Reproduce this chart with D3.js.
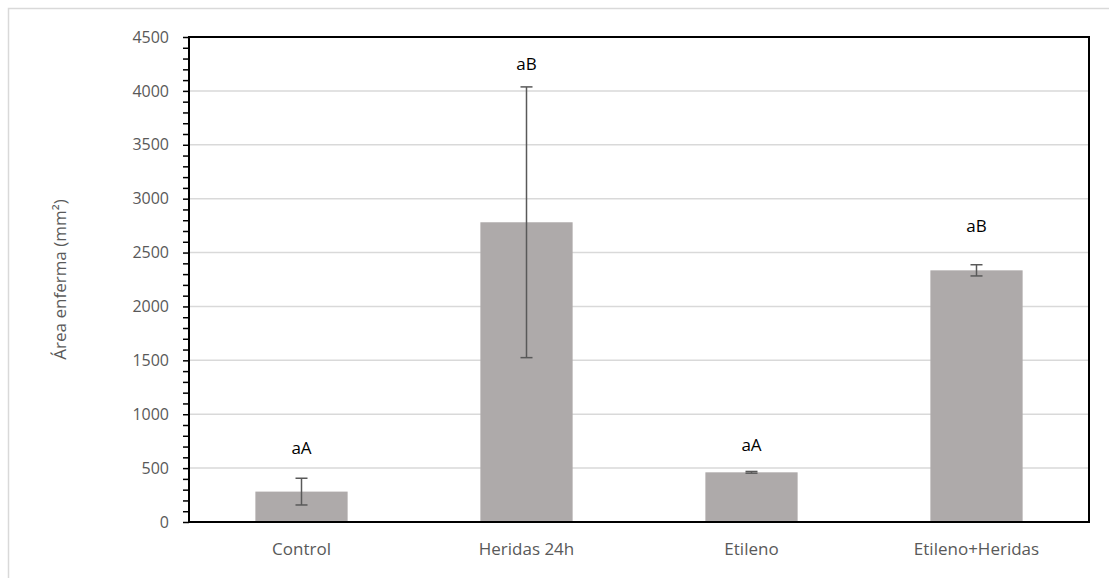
<!DOCTYPE html>
<html>
<head>
<meta charset="utf-8">
<script src="https://cdn.jsdelivr.net/npm/d3@7"></script>
<style type="text/css">
  body{
    margin: 0;
    background: white;
    font-family: 'Open Sans', 'Liberation Sans', sans-serif;
  }
  .grid line{
    stroke: #d9d9d9;
    stroke-width: 1.5px;
  }
  .tickText{
    fill: #595959;
  }
</style>
</head>
<body>
<svg id="chart" width="1109" height="578"></svg>
<script>

// data
var categories = ["Control", "Heridas 24h", "Etileno", "Etileno+Heridas"];
var values = [282, 2781, 461, 2335];
var errors = [124, 1256, 8, 52];
var letters = ["aA", "aB", "aA", "aB"];
var letterAt = [690, 4245, 710, 2745];   // label height in data units
var yTicks = [0, 500, 1000, 1500, 2000, 2500, 3000, 3500, 4000, 4500];

var plotLeft = 189, plotRight = 1089, plotTop = 37, plotBottom = 522;

var svg = d3.select("#chart");

// outer chart frame
svg.append("rect")
  .attr("x", 8.5).attr("y", 8.5)
  .attr("width", 1200).attr("height", 700)
  .attr("fill", "none")
  .attr("stroke", "#d9d9d9")
  .attr("stroke-width", 1.5);

var x = d3.scaleBand()
  .domain(categories)
  .range([plotLeft, plotRight])
  .paddingInner(0.59)
  .paddingOuter(0.295);

var y = d3.scaleLinear()
  .domain([0, 4500])
  .range([plotBottom, plotTop]);

// gridlines
svg.append("g")
  .attr("class", "grid")
  .selectAll("line")
  .data(yTicks.slice(1, -1))
  .enter().append("line")
  .attr("x1", plotLeft).attr("x2", plotRight)
  .attr("y1", function(d) { return y(d); })
  .attr("y2", function(d) { return y(d); });

// bars
svg.append("g")
  .selectAll("rect")
  .data(categories)
  .enter().append("rect")
  .attr("x", function(d) { return x(d); })
  .attr("width", x.bandwidth())
  .attr("y", function(d, i) { return y(values[i]); })
  .attr("height", function(d, i) { return y(0) - y(values[i]); })
  .attr("fill", "#aeaaaa");

// error bars
var err = svg.append("g")
  .attr("stroke", "#595959")
  .attr("stroke-width", 1.5)
  .selectAll("g")
  .data(categories)
  .enter().append("g");

err.append("line")
  .attr("x1", function(d) { return x(d) + x.bandwidth() / 2; })
  .attr("x2", function(d) { return x(d) + x.bandwidth() / 2; })
  .attr("y1", function(d, i) { return y(values[i] - errors[i]); })
  .attr("y2", function(d, i) { return y(values[i] + errors[i]); });

[-1, 1].forEach(function(s) {
  err.append("line")
    .attr("x1", function(d) { return x(d) + x.bandwidth() / 2 - 6; })
    .attr("x2", function(d) { return x(d) + x.bandwidth() / 2 + 6; })
    .attr("y1", function(d, i) { return y(values[i] + s * errors[i]); })
    .attr("y2", function(d, i) { return y(values[i] + s * errors[i]); });
});

// significance letters
svg.append("g")
  .selectAll("text")
  .data(categories)
  .enter().append("text")
  .attr("x", function(d) { return x(d) + x.bandwidth() / 2; })
  .attr("y", function(d, i) { return y(letterAt[i]); })
  .attr("dy", "0.35em")
  .attr("text-anchor", "middle")
  .attr("font-size", "17px")
  .attr("fill", "#000")
  .text(function(d, i) { return letters[i]; });

// y axis with minor ticks
var yAxisMinor = d3.axisLeft(y)
  .tickValues(d3.range(0, 4501, 100))
  .tickSize(6)
  .tickFormat("");

var gMinor = svg.append("g")
  .attr("transform", "translate(" + plotLeft + ",0)")
  .call(yAxisMinor);
gMinor.select(".domain").remove();
gMinor.selectAll("line").attr("stroke", "#000").attr("stroke-width", 1.5);

var yAxis = d3.axisLeft(y)
  .tickValues(yTicks)
  .tickFormat(d3.format("d"))
  .tickSize(0)
  .tickPadding(20);

var gy = svg.append("g")
  .attr("transform", "translate(" + plotLeft + ",0)")
  .call(yAxis);
gy.select(".domain").remove();
gy.selectAll("text")
  .attr("class", "tickText")
  .style("font-size", "16px")
  .style("font-family", "'Open Sans', 'Liberation Sans', sans-serif");

// x axis labels
var xAxis = d3.axisBottom(x).tickSize(0).tickPadding(21);
var gx = svg.append("g")
  .attr("transform", "translate(0," + plotBottom + ")")
  .call(xAxis);
gx.select(".domain").remove();
gx.selectAll("text")
  .attr("class", "tickText")
  .style("font-size", "17px")
  .style("font-family", "'Open Sans', 'Liberation Sans', sans-serif");

// plot frame
svg.append("rect")
  .attr("x", plotLeft).attr("y", plotTop)
  .attr("width", plotRight - plotLeft).attr("height", plotBottom - plotTop)
  .attr("fill", "none")
  .attr("stroke", "#000")
  .attr("stroke-width", 2);

// y title
svg.append("text")
  .attr("transform", "translate(60," + ((plotTop + plotBottom) / 2) + ") rotate(-90)")
  .attr("text-anchor", "middle")
  .attr("dy", "0.35em")
  .attr("font-size", "17px")
  .attr("fill", "#595959")
  .text("Área enferma (mm²)");

</script>
</body>
</html>
